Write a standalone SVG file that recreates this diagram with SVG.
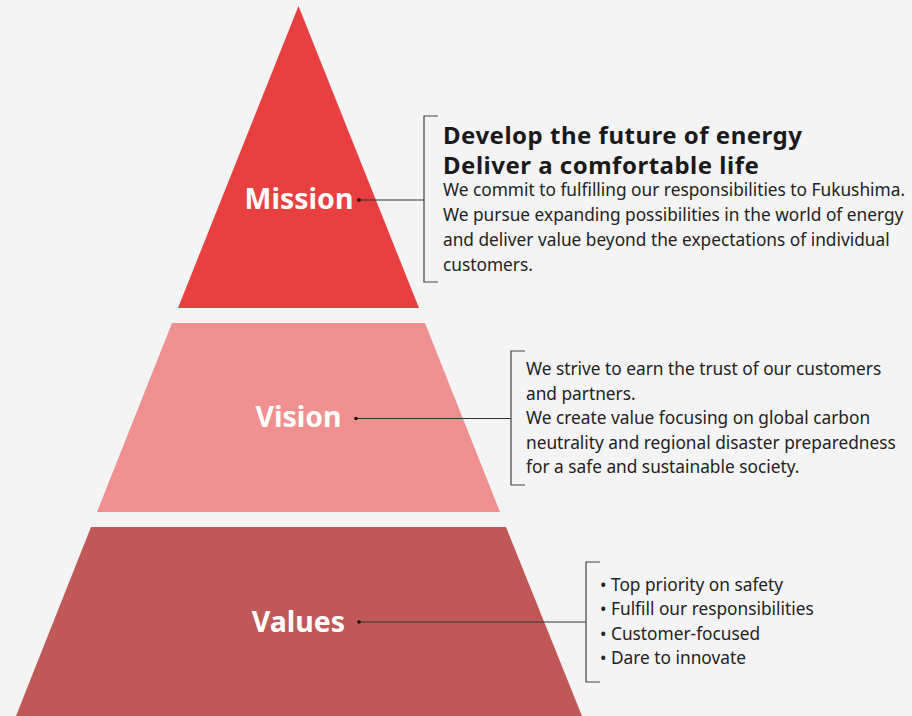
<svg xmlns="http://www.w3.org/2000/svg" width="912" height="716" viewBox="0 0 912 716">
<style>
.lbl{font-family:"Noto Sans","Open Sans",sans-serif;font-weight:700;font-size:28.5px;fill:#fff;text-anchor:middle}
.hd{font-family:"Noto Sans","Open Sans",sans-serif;font-weight:700;font-size:24px;letter-spacing:0.5px;fill:#1a1a1a}
.bd{font-family:"Noto Sans","Open Sans",sans-serif;font-size:17.3px;fill:#222}
.ln{stroke:#333;stroke-width:1.2;fill:none}
.br{stroke:#444;stroke-width:1.2;fill:none}
</style>
<rect width="912" height="716" fill="#f4f4f4"/>
<g id="mission">
<polygon points="298.5,6 419,308 178,308" fill="#e84040"/>
<text class="lbl" x="299" y="209">Mission</text>
</g>
<g id="vision">
<polygon points="172,323 425,323 500,512 97,512" fill="#f09090"/>
<text class="lbl" x="298.5" y="427">Vision</text>
</g>
<g id="values">
<polygon points="91,527 506,527 582,716 16,716" fill="#c05858"/>
<text class="lbl" x="298.5" y="632">Values</text>
</g>
<g id="mission-text">
<path class="br" d="M438,116 H424 V282 H438"/>
<text class="hd" x="443" y="144">Develop the future of energy</text>
<text class="hd" x="443" y="174">Deliver a comfortable life</text>
<text class="bd" x="443" y="196">We commit to fulfilling our responsibilities to Fukushima.</text>
<text class="bd" x="443" y="221">We pursue expanding possibilities in the world of energy</text>
<text class="bd" x="443" y="246">and deliver value beyond the expectations of individual</text>
<text class="bd" x="443" y="271">customers.</text>
</g>
<g id="vision-text">
<path class="br" d="M525,351 H511 V485 H525"/>
<text class="bd" x="526" y="375">We strive to earn the trust of our customers</text>
<text class="bd" x="526" y="400">and partners.</text>
<text class="bd" x="526" y="424">We create value focusing on global carbon</text>
<text class="bd" x="526" y="449">neutrality and regional disaster preparedness</text>
<text class="bd" x="526" y="473">for a safe and sustainable society.</text>
</g>
<g id="values-text">
<path class="br" d="M600,562 H586 V682 H600"/>
<text class="bd" x="600" y="591">• Top priority on safety</text>
<text class="bd" x="600" y="615">• Fulfill our responsibilities</text>
<text class="bd" x="600" y="640">• Customer-focused</text>
<text class="bd" x="600" y="664">• Dare to innovate</text>
</g>
<g id="connectors">
<line class="ln" x1="359" y1="200" x2="424" y2="200"/>
<circle cx="359" cy="200" r="1.8" fill="#111"/>
<line class="ln" x1="356" y1="418.5" x2="511" y2="418.5"/>
<circle cx="356" cy="418.5" r="1.8" fill="#111"/>
<line class="ln" x1="359" y1="622" x2="586" y2="622"/>
<circle cx="359" cy="622" r="1.8" fill="#111"/>
</g>
</svg>
